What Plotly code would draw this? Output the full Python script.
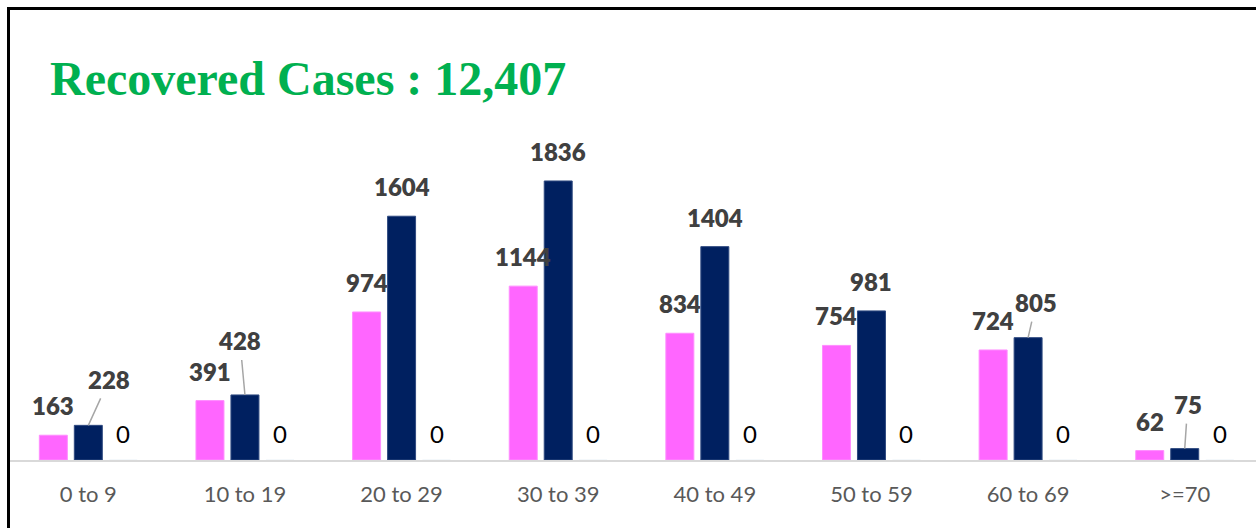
import plotly.graph_objects as go

categories = ["0 to 9", "10 to 19", "20 to 29", "30 to 39", "40 to 49", "50 to 59", "60 to 69", ">=70"]
female = [163, 391, 974, 1144, 834, 754, 724, 62]
male = [228, 428, 1604, 1836, 1404, 981, 805, 75]
other = [0, 0, 0, 0, 0, 0, 0, 0]
title_text = "Recovered Cases : 12,407"

PINK = "#FF66FF"
NAVY = "#002060"
LABEL_GRAY = "#404040"

W, H = 1256, 528
ML, MR, MT, MB = 10, 0, 60, 68
BARGAP = 0.33
SLOT = (1 - BARGAP) / 3

fig = go.Figure()
fig.add_trace(go.Bar(name="Female", x=categories, y=female,
                     marker=dict(color=PINK, line=dict(color="#FF8CFF", width=1))))
fig.add_trace(go.Bar(name="Male", x=categories, y=male,
                     marker=dict(color=NAVY, line=dict(color="#2F4A80", width=1))))
fig.add_trace(go.Bar(name="Other", x=categories, y=other,
                     marker=dict(color="rgba(0,0,0,0)")))

label_font = dict(family="Lato", size=24, color=LABEL_GRAY, weight=800)
zero_font = dict(family="Lato", size=24, color="#000000")

# leader-line offsets (pixels) for labels moved away from their bars
leader = {("m", 0): (21, -46), ("m", 1): (-5, -54), ("m", 6): (8, -35), ("m", 7): (3, -44)}

annotations = []
for series, vals, off in (("f", female, -SLOT), ("m", male, 0.0), ("o", other, SLOT)):
    for i, v in enumerate(vals):
        xpos = i + off
        if series == "o":
            annotations.append(dict(x=xpos, y=v, xref="x", yref="y", text=str(v),
                                    showarrow=False, yanchor="bottom", yshift=10,
                                    font=zero_font))
        elif (series, i) in leader:
            ax, ay = leader[(series, i)]
            annotations.append(dict(x=xpos, y=v, xref="x", yref="y", text=str(v),
                                    showarrow=True, arrowhead=0, arrowwidth=1.5,
                                    arrowcolor="#A6A6A6", ax=ax, ay=ay, borderpad=4,
                                    standoff=0, font=label_font))
        else:
            annotations.append(dict(x=xpos, y=v, xref="x", yref="y", text=str(v),
                                    showarrow=False, yanchor="bottom", yshift=13,
                                    font=label_font))

annotations.append(dict(text=title_text, xref="paper", yref="paper",
                        x=(48 - ML) / (W - ML - MR), y=(H - MB - 78) / (H - MT - MB),
                        xanchor="left", yanchor="middle", showarrow=False,
                        font=dict(family="Liberation Serif", size=48, color="#00B050",
                                  weight="bold")))

plot_w = W - ML - MR
plot_h = H - MT - MB
fig.add_shape(type="rect", xref="paper", yref="paper",
              x0=(8.5 - ML) / plot_w, x1=1.05,
              y0=-0.5, y1=(H - MB - 8.5) / plot_h,
              line=dict(color="#000000", width=3), fillcolor="rgba(0,0,0,0)")

fig.update_layout(
    width=W, height=H,
    margin=dict(l=ML, r=MR, t=MT, b=MB),
    paper_bgcolor="white", plot_bgcolor="white",
    barmode="group", bargap=BARGAP, bargroupgap=0.2,
    showlegend=False,
    annotations=annotations,
    xaxis=dict(type="category", range=[-0.5, 7.455], showgrid=False, zeroline=False,
               showline=True, linecolor="#D9D9D9", linewidth=2,
               ticks="", ticklabelstandoff=14,
               tickfont=dict(family="Lato", size=22, color="#595959")),
    yaxis=dict(visible=False, range=[0, 2632], showgrid=False, zeroline=False),
)

fig.write_html("out.html")
